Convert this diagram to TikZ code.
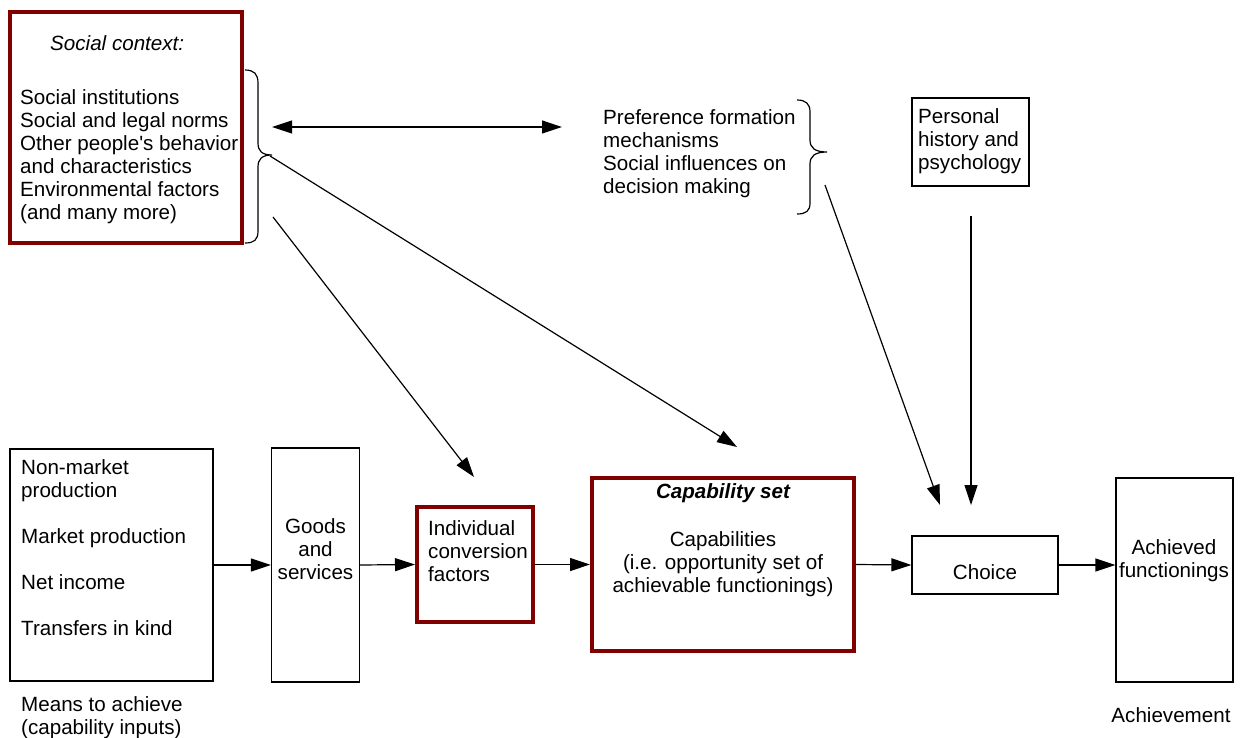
\documentclass[tikz,border=0pt]{standalone}
\usepackage{fontspec}
\setmainfont{Liberation Sans}
\usetikzlibrary{arrows.meta}
\definecolor{boxred}{RGB}{128,0,0}
\newcommand\tstrut{\rule{0pt}{16pt}}
\begin{document}
\begin{tikzpicture}[x=1pt,y=-1pt,
  box/.style={draw=black, line width=1.2pt, inner sep=0},
  redbox/.style={draw=boxred, line width=4pt, inner sep=0},
  txt/.style={font=\fontsize{20.6}{23}\selectfont, inner sep=0},
  arr/.style={line width=1.2pt, -{Triangle[length=20pt,width=13pt]}},
  darr/.style={line width=1.2pt, {Triangle[length=20pt,width=13pt]}-{Triangle[length=20pt,width=13pt]}},
  brace/.style={line width=1.2pt}]
\useasboundingbox (0,0) rectangle (1241,738);

% ---- texts ----
\node[txt, anchor=base west] (sctitle) at (50,51) {\itshape Social context:};
\node[txt, anchor=north west, align=left] (sclist) at (20,88)
  {\tstrut Social institutions\\Social and legal norms\\Other people\textquotesingle s behavior\\and characteristics\\Environmental factors\\(and many more)};
\node[txt, anchor=north west, align=left] (pref) at (603,108)
  {\tstrut Preference formation\\mechanisms\\Social influences on\\decision making};
\node[txt, anchor=north west, align=left] (perstxt) at (918,107)
  {\tstrut Personal\\history and\\psychology};
\node[txt, anchor=north west, align=left] (meanstxt) at (21,458)
  {\tstrut Non-market\\production\\[23pt]Market production\\[23pt]Net income\\[23pt]Transfers in kind};
\node[txt, anchor=north west, align=left] (meanslbl) at (21,695)
  {\tstrut Means to achieve\\(capability inputs)};
\node[txt, anchor=north, align=center] (goodstxt) at (315.5,517)
  {\tstrut Goods\\and\\services};
\node[txt, anchor=north west, align=left] (indtxt) at (428,519)
  {\tstrut Individual\\conversion\\factors};
\node[txt, anchor=base] (captitle) at (723,498) {\bfseries\itshape Capability set};
\node[txt, anchor=north, align=center] (captxt) at (723,530)
  {\tstrut Capabilities\\(i.e. opportunity set of\\achievable functionings)};
\node[txt, anchor=base] (choicetxt) at (985,579) {Choice};
\node[txt, anchor=north, align=center] (achtxt) at (1174,538)
  {\tstrut Achieved\\functionings};
\node[txt, anchor=base] (achlbl) at (1171,722) {Achievement};

% ---- boxes ----
\node[redbox, minimum width=232, minimum height=231] (social) at (126,127.5) {};
\node[box, minimum width=117, minimum height=88] (personal) at (970.5,142) {};
\node[box, minimum width=203, minimum height=232] (means) at (111.5,565) {};
\node[box, minimum width=88, minimum height=234] (goods) at (315.5,565) {};
\node[redbox, minimum width=116, minimum height=115] (indiv) at (475,564.5) {};
\node[redbox, minimum width=262, minimum height=173] (capab) at (723,564.5) {};
\node[box, minimum width=146, minimum height=58] (choice) at (985,565) {};
\node[box, minimum width=117, minimum height=204] (achieved) at (1174.5,580) {};

% ---- braces ----
\draw[brace] (245,70) .. controls (254,70) and (258,74) .. (258,83) -- (258,143)
  .. controls (258,151) and (262,155) .. (272,155)
  .. controls (262,155) and (258,159) .. (258,167) -- (258,231)
  .. controls (258,240) and (254,243) .. (245,243);
\draw[brace] (797,100) .. controls (806,100) and (810,104) .. (810,112) -- (810,140)
  .. controls (810,148) and (815,152) .. (827,152)
  .. controls (815,152) and (810,156) .. (810,164) -- (810,203)
  .. controls (810,211) and (806,214) .. (797,214);

% ---- free ends ----
\coordinate (dblL) at (272,127);
\coordinate (dblR) at (562,127);
\coordinate (scA) at (270,156);
\coordinate (scB) at (273,217);
\coordinate (tipCap) at (737,447);
\coordinate (tipInd) at (474,477);
\coordinate (prefOut) at (825,185);
\coordinate (tipCh1) at (940,505);
\coordinate (persOut) at (971,216);
\coordinate (tipCh2) at (971,505);

% ---- connectors ----
\draw[darr] (dblL) -- (dblR);
\draw[arr] (scA) -- (tipCap);
\draw[arr] (scB) -- (tipInd);
\draw[arr] (prefOut) -- (tipCh1);
\draw[arr] (persOut) -- (tipCh2);
\draw[arr] (means.east) -- (goods.west);
\draw[arr] (goods.east) -- (indiv.west);
\draw[arr] (indiv.east) -- (capab.west);
\draw[arr] (capab.east) -- (choice.west);
\draw[arr] (choice.east) -- (choice.east -| achieved.west);
\end{tikzpicture}
\end{document}
